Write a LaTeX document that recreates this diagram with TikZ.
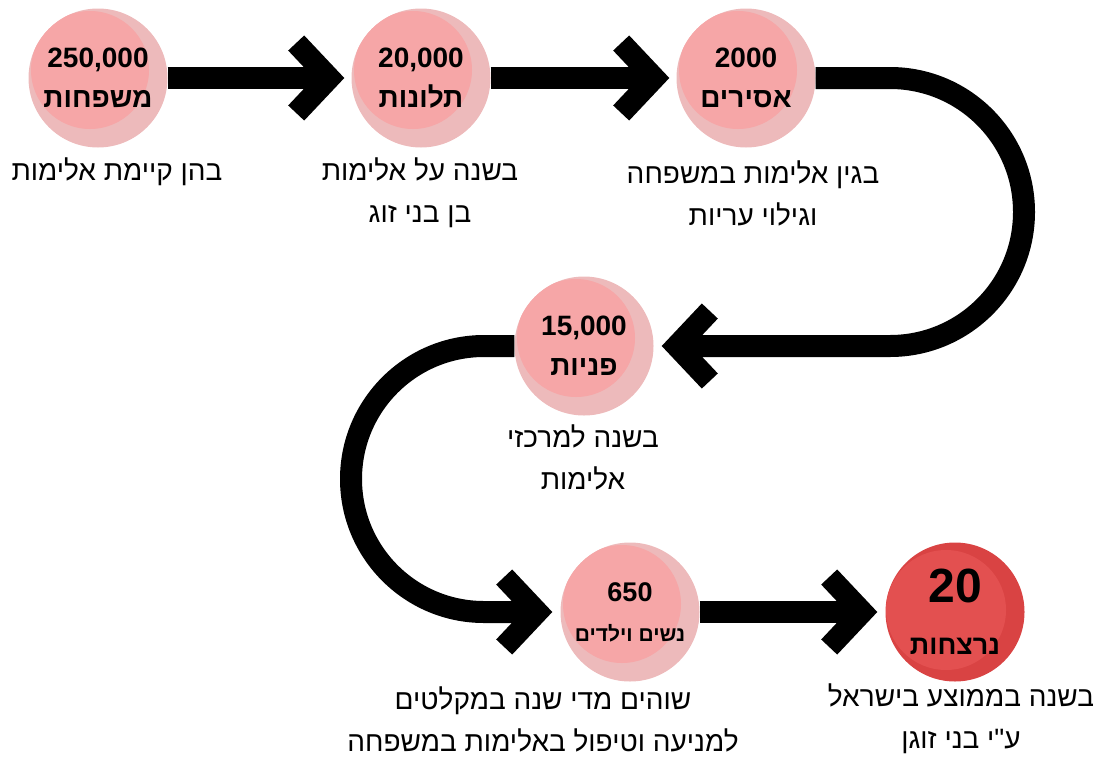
\documentclass[tikz,border=0pt]{standalone}
\usepackage{fontspec}
\setmainfont{Liberation Sans}
\newfontfamily\hebfont[Script=Hebrew]{Liberation Sans}
\TeXXeTstate=1
\usetikzlibrary{arrows.meta}
\definecolor{pinkdark}{HTML}{F6A6A7}
\definecolor{pinklight}{HTML}{EDBABB}
\definecolor{reddark}{HTML}{D94343}
\definecolor{redlight}{HTML}{E35050}
\newcommand{\heb}[1]{{\hebfont\beginR #1\endR}}

\begin{document}
\begin{tikzpicture}[x=1pt, y=-1pt,
    bubble/.style={circle, minimum size=139pt, inner sep=0pt, align=center,
        fill=pinklight, font=\fontsize{28}{40}\selectfont\bfseries,
        path picture={\fill[pinkdark] ([shift={(-8pt,8pt)}]path picture bounding box.center) circle[radius=59pt];}},
    redbubble/.style={bubble, fill=reddark,
        path picture={\fill[redlight] ([shift={(-9pt,2pt)}]path picture bounding box.center) circle[radius=60pt];}},
    lbl/.style={align=center, font=\fontsize{28}{42}\selectfont},
    flow/.style={line width=22pt, -{Straight Barb[length=33pt,width=70pt]}}]
    \useasboundingbox (0, 0) rectangle (1097, 758);

    % circles
    \node[bubble] (fam) at (98, 78) {250,000\\\heb{משפחות}};
    \node[bubble] (calls) at (421, 78) {20,000\\\heb{תלונות}};
    \node[bubble] (pris) at (746, 78) {2000\\\heb{אסירים}};
    \node[bubble] (appl) at (584, 346) {15,000\\\heb{פניות}};
    \node[bubble, font=\fontsize{27}{40}\selectfont\bfseries] (shel) at (630, 612)
        {650\\{\fontsize{21}{21}\selectfont\heb{נשים וילדים}}};
    \node[redbubble, font=\fontsize{48}{52}\selectfont\bfseries] (murd) at (955, 612)
        {20\\{\fontsize{27}{27}\selectfont\heb{נרצחות}}};

    % texts under the circles
    \node[lbl] (fam-l) at (117, 172) {\heb{בהן קיימת אלימות}};
    \node[lbl] (calls-l) at (420, 193) {\heb{בשנה על אלימות}\\\heb{בן בני זוג}};
    \node[lbl] (pris-l) at (753, 193) {\heb{בגין אלימות במשפחה}\\\heb{וגילוי עריות}};
    \node[lbl] (appl-l) at (583, 457) {\heb{בשנה למרכזי}\\\heb{אלימות}};
    \node[lbl] (shel-l) at (543, 719) {\heb{שוהים מדי שנה במקלטים}\\\heb{למניעה וטיפול באלימות במשפחה}};
    \node[lbl] (murd-l) at (961, 719) {\heb{בשנה בממוצע בישראל}\\\heb{ע"י בני זוגן}};

    % arrows
    \draw[flow] (fam.east) -- ([xshift=-7pt]calls.west);
    \draw[flow] (calls.east) -- ([xshift=-7pt]pris.west);
    \draw[flow] (pris.east) -- (890, 78) arc[start angle=90, end angle=-90, radius=134pt] -- ([xshift=8pt]appl.east);
    \draw[flow] (appl.west) -- (484, 346) arc[start angle=90, end angle=270, radius=133pt] -- ([xshift=-8pt]shel.west);
    \draw[flow] (shel.east) -- ([xshift=-8pt]murd.west);
\end{tikzpicture}
\end{document}
